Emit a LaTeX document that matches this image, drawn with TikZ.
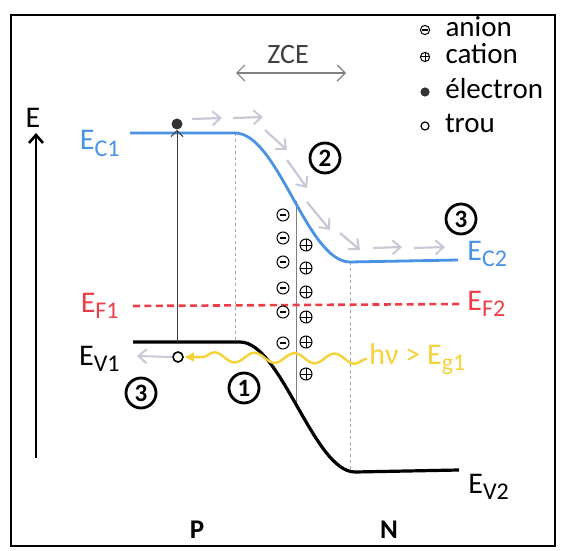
\documentclass[tikz,border=0pt]{standalone}
\usepackage{fontspec}
\setmainfont{Carlito}
\usepackage{tikz}
\usetikzlibrary{arrows.meta,positioning,decorations.pathmorphing}
\definecolor{bandblue}{RGB}{74,146,228}
\definecolor{fermired}{RGB}{236,62,72}
\definecolor{photonyel}{RGB}{244,210,56}
\definecolor{flowgray}{RGB}{200,200,214}
\newcommand{\bandsub}[1]{\raisebox{-0.45ex}{\fontsize{12}{12}\selectfont #1}}

\begin{document}
\begin{tikzpicture}[x=0.5pt, y=-0.5pt,
    lbl/.style={font=\fontsize{15}{15}\selectfont, inner sep=1pt},
    leg/.style={font=\fontsize{14.5}{14.5}\selectfont, inner sep=1pt,
                text height=7pt, text depth=0pt},
    num/.style={circle, draw, line width=1.4pt, minimum size=15pt,
                inner sep=0pt, font=\fontsize{12.5}{12.5}\selectfont\bfseries},
    anion/.style={circle, draw, line width=0.5pt, minimum size=6pt, inner sep=0pt,
                  path picture={\draw[line width=0.8pt]
                    ([xshift=-1.5pt]path picture bounding box.center) --
                    ([xshift=1.5pt]path picture bounding box.center);}},
    cation/.style={circle, draw, line width=0.5pt, minimum size=6pt, inner sep=0pt,
                   path picture={\draw[line width=0.5pt]
                    (path picture bounding box.west) -- (path picture bounding box.east)
                    (path picture bounding box.north) -- (path picture bounding box.south);}},
    elec/.style={circle, fill=black!80, minimum size=5.5pt, inner sep=0pt},
    hole/.style={circle, draw, line width=0.8pt, minimum size=5pt, inner sep=0pt},
    cband/.style={bandblue, line width=1.4pt},
    vband/.style={black, line width=1.6pt},
    fband/.style={fermired, line width=1.3pt, dash pattern=on 3.5pt off 2.2pt},
    guide/.style={gray!70, line width=0.4pt, dash pattern=on 1.5pt off 1.5pt},
    flow/.style={flowgray, line width=1.1pt,
                 -{Straight Barb[length=4pt, width=7pt, line width=1pt]}},
    photon/.style={photonyel, line width=1.2pt, -{Latex[length=5pt, width=5pt]},
                   decorate, decoration={snake, amplitude=2.5pt,
                   segment length=20pt, post length=6pt}}
  ]
    \useasboundingbox (0,0) rectangle (565,550);
    \draw[line width=1pt] (11,15) rectangle (555,546);

    % energy axis
    \coordinate (ax0) at (36,458);
    \coordinate (ax1) at (36,133);
    \draw[line width=1.3pt, -{Straight Barb[length=4pt, width=7pt]}] (ax0) -- (ax1);
    \node[lbl] (E) at (33,118) {E};

    % zone de charge d'espace
    \coordinate (zl) at (236,73);
    \coordinate (zr) at (346,73);
    \draw[gray, line width=0.6pt, {Straight Barb[length=4pt, width=8pt]}-{Straight Barb[length=4pt, width=8pt]}] (zl) -- (zr);
    \node[lbl, font=\fontsize{14}{14}\selectfont, text=black!75] (zce) at (288,55) {ZCE};

    % legende
    \node[anion, minimum size=4.6pt] (lan) at (425,30) {};
    \node[leg, right=6.5pt of lan] (tan) {anion};
    \node[cation, minimum size=4.6pt] (lca) at (425,57) {};
    \node[leg, right=6.5pt of lca] (tca) {cation};
    \node[elec, minimum size=4.6pt] (lel) at (425,92) {};
    \node[leg, right=6.5pt of lel] (tel) {électron};
    \node[hole, minimum size=4pt, line width=0.6pt] (lho) at (425,126) {};
    \node[leg, right=6.5pt of lho] (tho) {trou};

    % limites de la ZCE
    \draw[guide] (235,133) -- (235,342);
    \draw[guide] (350,262) -- (350,472);
    \draw[gray, line width=0.5pt] (296,201) -- (296,403);

    % bandes
    \coordinate (c1) at (130,133);  \coordinate (c1e) at (235,133);
    \coordinate (c2s) at (350,262); \coordinate (c2) at (458,260);
    \draw[cband] (c1) -- (c1e) .. controls (278,133) and (307,262) .. (c2s) -- (c2);
    \coordinate (f1) at (133,306);  \coordinate (f2) at (461,304);
    \draw[fband] (f1) -- (f2);
    \coordinate (v1) at (133,342);  \coordinate (v1e) at (240,342);
    \coordinate (v2s) at (355,472); \coordinate (v2) at (459,470);
    \draw[vband] (v1) -- (v1e) .. controls (281,342) and (314,472) .. (v2s) -- (v2);

    \node[lbl, anchor=base east, text=bandblue] (lc1) at (122,150) {E\bandsub{C1}};
    \node[lbl, anchor=base west, text=bandblue] (lc2) at (465,260) {E\bandsub{C2}};
    \node[lbl, anchor=base east, text=fermired] (lf1) at (121,312) {E\bandsub{F1}};
    \node[lbl, anchor=base west, text=fermired] (lf2) at (465,310) {E\bandsub{F2}};
    \node[lbl, anchor=base east] (lv1) at (122,365) {E\bandsub{V1}};
    \node[lbl, anchor=base west] (lv2) at (466,493) {E\bandsub{V2}};

    % ions fixes
    \foreach \y [count=\i] in {215,238,262,288,312,343}
      \node[anion] (an\i) at (283,\y) {};
    \foreach \y [count=\i] in {245,268,292,317,342,374}
      \node[cation] (ca\i) at (306,\y) {};

    % electron et trou
    \node[elec] (e) at (177,124) {};
    \node[hole] (h) at (178,357) {};
    \coordinate (ex) at (177,342);
    \draw[black!75, line width=0.5pt, -{Straight Barb[length=3pt, width=6pt]}] (ex) -- (e.south);
    \coordinate (hx) at (137,356);
    \draw[flow, line width=1pt] (h.west) -- (hx);

    % derive de l'electron
    \foreach \xa/\ya/\xb/\yb in {192/119/222/118, 233/118/263/117, 265/130/287/150,
        287/160/307/188, 307/202/330/230, 340/233/360/250, 373/248/402/247, 414/248/445/247}
      \draw[flow] (\xa,\ya) -- (\xb,\yb);

    % photon
    \node[lbl, anchor=base west, text=photonyel] (hv) at (367,364) {hν > E\bandsub{g1}};
    \draw[photon] (hv.west) -- (h.east);

    % etapes
    \node[num] (n1) at (244,388) {1};
    \node[num] (n2) at (325,158) {2};
    \node[num] (n3a) at (461,219) {3};
    \node[num] (n3b) at (141,393) {3};

    \node[lbl, font=\fontsize{13.5}{13.5}\selectfont\bfseries] (P) at (197,530) {P};
    \node[lbl, font=\fontsize{13.5}{13.5}\selectfont\bfseries] (N) at (389,530) {N};
  \end{tikzpicture}
\end{document}
